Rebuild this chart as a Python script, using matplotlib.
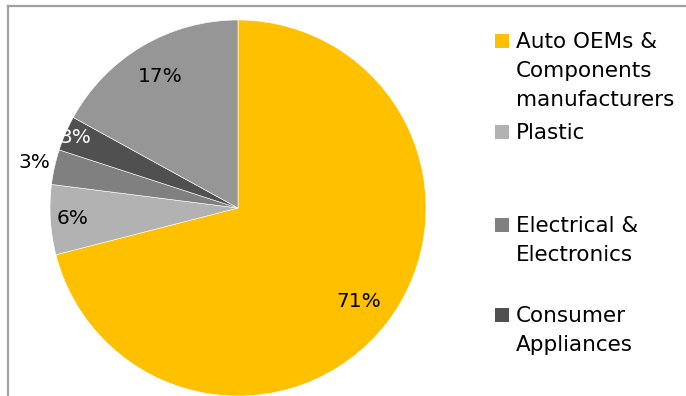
import matplotlib.pyplot as plt
from matplotlib.lines import Line2D
from matplotlib.patches import Rectangle
import numpy as np

# ----------------------------
# DATA
# ----------------------------
sectors = [
    "Auto OEMs &\nComponents\nmanufacturers",
    "Plastic",
    "Electrical &\nElectronics",
    "Consumer\nAppliances",
    "Others",
]
shares = [71, 6, 3, 3, 17]
pct_labels = ["71%", "6%", "3%", "3%", "17%"]
legend_count = 4  # only first four sectors shown in legend

colors = ["#FFC000", "#B2B2B2", "#808080", "#505050", "#969696"]
label_dist = [0.81, 0.88, 1.11, 0.94, 0.81]
label_colors = ["black", "black", "black", "white", "black"]

W, H = 686, 396

fig = plt.figure(figsize=(W / 100, H / 100), dpi=100)
ax = fig.add_axes([0, 0, 1, 1])

# pie centre / radius in pixel units (y measured from bottom)
cx, cy, R = 238, H - 208, 188

wedges, _ = ax.pie(
    shares,
    colors=colors,
    startangle=90,
    counterclock=False,
    center=(cx, cy),
    radius=R,
    wedgeprops=dict(edgecolor="white", linewidth=0.4),
)

ax.set_xlim(0, W)
ax.set_ylim(0, H)
ax.set_aspect("equal")
ax.axis("off")

# percentage labels
for w, txt, d, c in zip(wedges, pct_labels, label_dist, label_colors):
    ang = np.deg2rad((w.theta1 + w.theta2) / 2)
    ax.text(cx + R * d * np.cos(ang), cy + R * d * np.sin(ang), txt,
            ha="center", va="center", fontsize=14.5, color=c)

# ----------------------------
# LEGEND (manual, fixed slots)
# ----------------------------
baselines = [48, 139, 232, 322]
for i in range(legend_count):
    yb = baselines[i]
    fig.add_artist(Rectangle((495 / W, 1 - yb / H), 14 / W, 14 / H,
                             transform=fig.transFigure,
                             facecolor=colors[i], edgecolor="none"))
    for j, line in enumerate(sectors[i].split("\n")):
        fig.text(516 / W, 1 - (yb + 29 * j) / H, line,
                 ha="left", va="baseline", fontsize=15.5, color="black")

# border (left + top only, bottom/right clipped)
fig.add_artist(Line2D([8 / W, 8 / W], [0, 1 - 6 / H], transform=fig.transFigure,
                      color="#A0A0A0", linewidth=1.6))
fig.add_artist(Line2D([8 / W, 1], [1 - 6 / H, 1 - 6 / H], transform=fig.transFigure,
                      color="#A0A0A0", linewidth=1.6))

fig.savefig("out.png", dpi=100)
